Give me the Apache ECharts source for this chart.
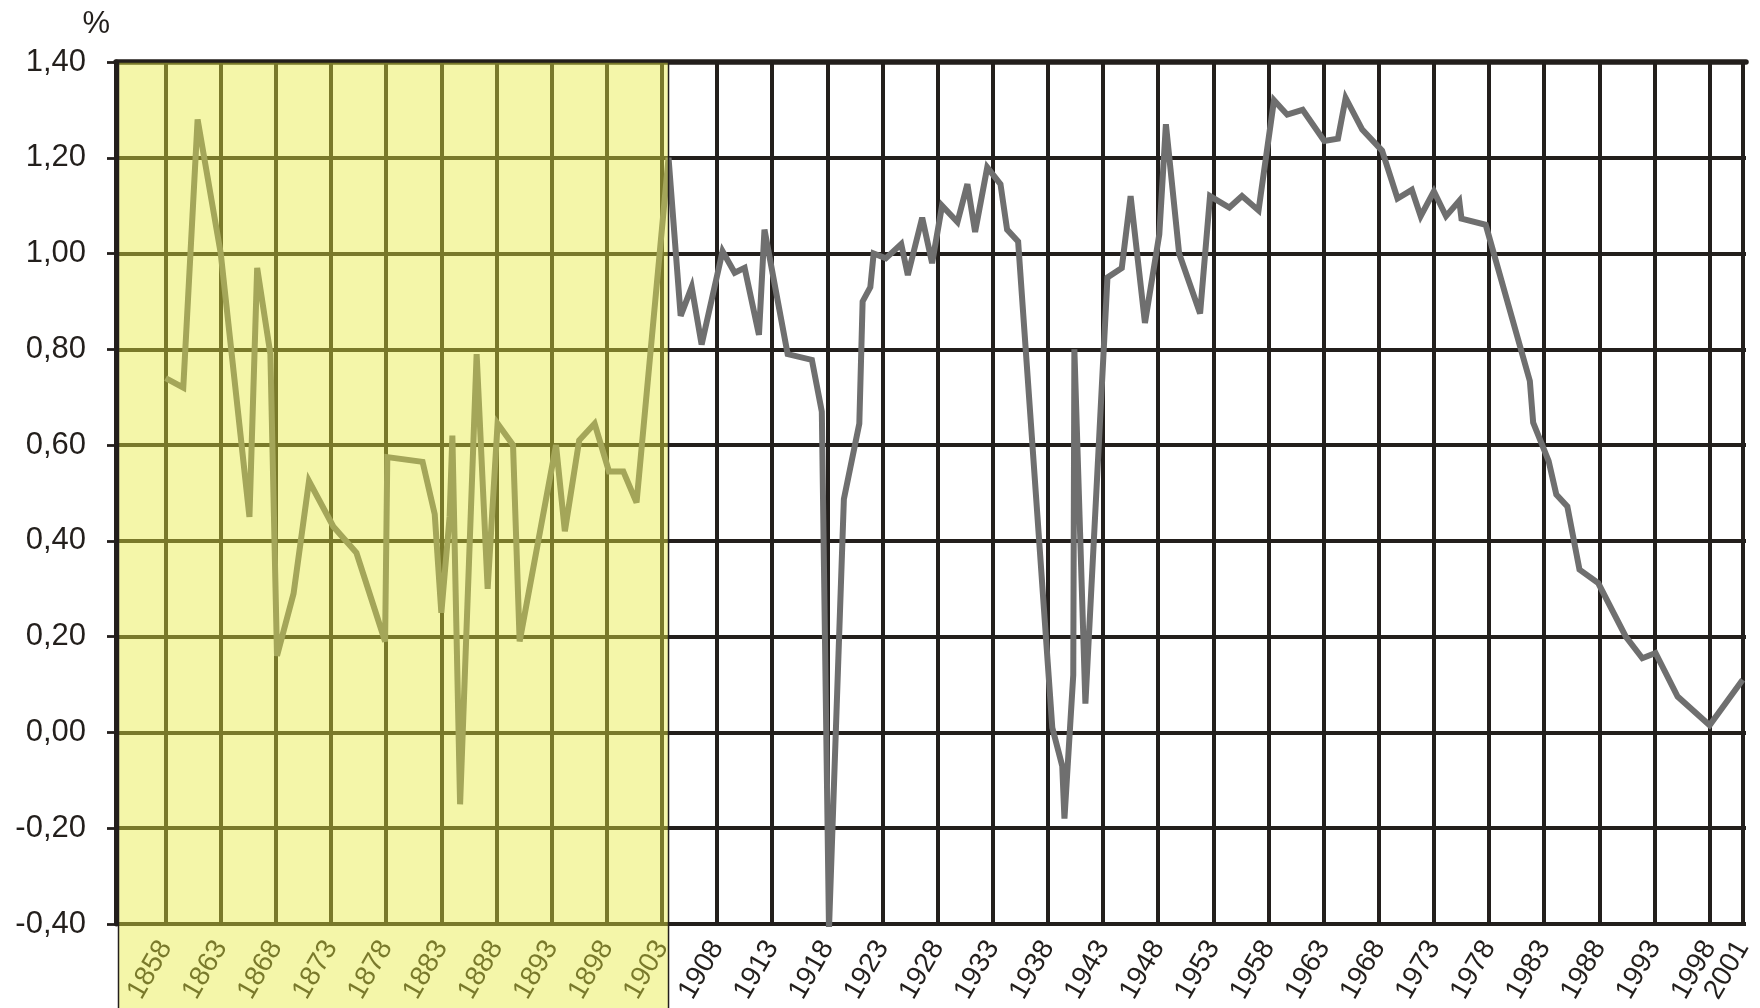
<!DOCTYPE html>
<html>
<head>
<meta charset="utf-8">
<script src="https://cdn.jsdelivr.net/npm/echarts@6/dist/echarts.min.js"></script>
<style>
  html, body { margin: 0; padding: 0; background: #ffffff; }
  #chart { width: 1760px; height: 1008px; }
</style>
</head>
<body>
<div id="chart"></div>
<script>
// ---- data (year position, growth rate %) ----
const years = [
  1858, 1859.6, 1860.9, 1863.0, 1865.6, 1866.3, 1867.5, 1868.1, 1869.6, 1871.0,
  1873.2, 1875.3, 1877.9, 1878.1, 1881.3, 1882.4, 1883.0, 1883.75, 1884.0, 1884.7,
  1886.2, 1887.2, 1888.1, 1889.5, 1890.1, 1893.4, 1894.2, 1895.5, 1896.9, 1898.2,
  1899.5, 1900.7, 1903.6,
  1904.7, 1905.7, 1906.6, 1908.5, 1909.6, 1910.5, 1911.8, 1912.3, 1914.4, 1916.6,
  1917.5, 1918.15, 1919.5, 1920.9, 1921.2, 1921.9, 1922.2, 1923.3, 1924.7, 1925.3,
  1926.6, 1927.5, 1928.4, 1929.8, 1930.7, 1931.4, 1932.5, 1933.7, 1934.3, 1935.3,
  1938.4, 1939.3, 1939.5, 1940.3, 1940.4, 1941.4, 1943.4, 1944.7, 1945.5, 1946.8,
  1948.1, 1948.7, 1949.9, 1951.8, 1952.7, 1954.45, 1955.6, 1957.1, 1958.5, 1959.7,
  1961.1, 1963.06, 1964.3, 1965.0, 1966.5, 1968.3, 1969.7, 1971.0, 1971.8, 1973.0,
  1974.1, 1975.3, 1975.5, 1977.7, 1981.7, 1982.0, 1983.4, 1984.1, 1985.1, 1986.2,
  1987.9, 1990.4, 1991.9, 1993.1, 1995.1, 1998.0, 2001
];
const values = [
  0.74, 0.72, 1.28, 1.00, 0.45, 0.97, 0.79, 0.16, 0.29, 0.525,
  0.43, 0.375, 0.19, 0.575, 0.565, 0.456, 0.25, 0.45, 0.62, -0.15,
  0.79, 0.30, 0.645, 0.60, 0.19, 0.60, 0.42, 0.61, 0.645, 0.545,
  0.545, 0.48, 1.20,
  0.87, 0.93, 0.81, 1.005, 0.96, 0.97, 0.83, 1.05, 0.79, 0.778,
  0.67, -0.41, 0.487, 0.645, 0.90, 0.93, 1.00, 0.99, 1.02, 0.955,
  1.075, 0.98, 1.10, 1.066, 1.145, 1.045, 1.18, 1.145, 1.05, 1.025,
  0.01, -0.07, -0.18, 0.12, 0.80, 0.06, 0.95, 0.97, 1.12, 0.855,
  1.04, 1.27, 1.00, 0.875, 1.12, 1.096, 1.12, 1.09, 1.32, 1.29,
  1.30, 1.235, 1.24, 1.325, 1.259, 1.215, 1.115, 1.133, 1.078, 1.13,
  1.078, 1.11, 1.073, 1.06, 0.734, 0.647, 0.567, 0.497, 0.472, 0.34,
  0.312, 0.20, 0.155, 0.166, 0.075, 0.015, 0.11
];
const tickYears = [1858, 1863, 1868, 1873, 1878, 1883, 1888, 1893, 1898, 1903,
  1908, 1913, 1918, 1923, 1928, 1933, 1938, 1943, 1948, 1953, 1958, 1963, 1968,
  1973, 1978, 1983, 1988, 1993, 1998, 2001];
const xMin = 1853.5, xMax = 2001.3;
const yMin = -0.4, yMax = 1.4, yStep = 0.2;
const shadedFrom = xMin, shadedUntil = 1903.6;

const INK = '#231f1c';
const FONT = 'Liberation Sans';

const chart = echarts.init(document.getElementById('chart'), null, { renderer: 'canvas' });

const fmtY = v => {
  const r = Math.abs(v) < 1e-9 ? 0 : Math.round(v * 100) / 100;
  return r.toFixed(2).replace('.', ',');
};

chart.setOption({
  animation: false,
  backgroundColor: '#ffffff',
  grid: { left: 116, right: 14, top: 62, bottom: 84, containLabel: false },
  xAxis: [
    {
      type: 'value', min: xMin, max: xMax,
      axisLine: { show: false },
      axisTick: { show: false, customValues: tickYears },
      axisLabel: {
        customValues: tickYears, rotate: 60, margin: 19,
        fontSize: 28, fontFamily: FONT, color: INK,
        hideOverlap: false, showMinLabel: true, showMaxLabel: true,
        formatter: v => String(Math.round(v))
      },
      splitLine: { show: true, lineStyle: { color: INK, width: 4 } }
    },
    {
      type: 'value', min: xMin, max: xMax,
      axisLine: { show: true, onZero: true, lineStyle: { color: INK, width: 5.5 } },
      axisTick: { show: false }, axisLabel: { show: false }, splitLine: { show: false }
    }
  ],
  yAxis: {
    type: 'value', min: yMin, max: yMax, interval: yStep,
    name: '%', nameLocation: 'end', nameGap: 22,
    nameTextStyle: { fontSize: 31, fontFamily: FONT, color: INK, align: 'right', verticalAlign: 'bottom', padding: [0, 6, 0, 0] },
    axisLine: { show: true, lineStyle: { color: INK, width: 5 } },
    axisTick: { show: true, inside: false, length: 9, lineStyle: { color: INK, width: 2.8 } },
    axisLabel: { fontSize: 31, fontFamily: FONT, color: INK, margin: 30, formatter: fmtY },
    splitLine: { show: true, lineStyle: { color: INK, width: 4.2 } }
  },
  series: [{
    type: 'line',
    xAxisIndex: 0,
    data: years.map((y, i) => [y, values[i]]),
    showSymbol: false,
    symbol: 'none',
    lineStyle: { color: '#6f6f6f', width: 6, join: 'miter', miterLimit: 4 },
    z: 3
  }]
});

// semi-transparent yellow panel laid over the early period (through the axis scales)
const px0 = chart.convertToPixel({ xAxisIndex: 0 }, shadedFrom);
const px1 = chart.convertToPixel({ xAxisIndex: 0 }, shadedUntil);
const pyTop = chart.convertToPixel({ yAxisIndex: 0 }, yMax);
const H = chart.getHeight();
chart.setOption({
  graphic: [{
    type: 'rect', z: 100, silent: true,
    shape: { x: px0 + 2.5, y: pyTop, width: px1 - px0 - 2.5, height: H - pyTop + 2 },
    style: { fill: 'rgba(230,235,60,0.445)', stroke: INK, lineWidth: 1.5 }
  }]
});
</script>
</body>
</html>
